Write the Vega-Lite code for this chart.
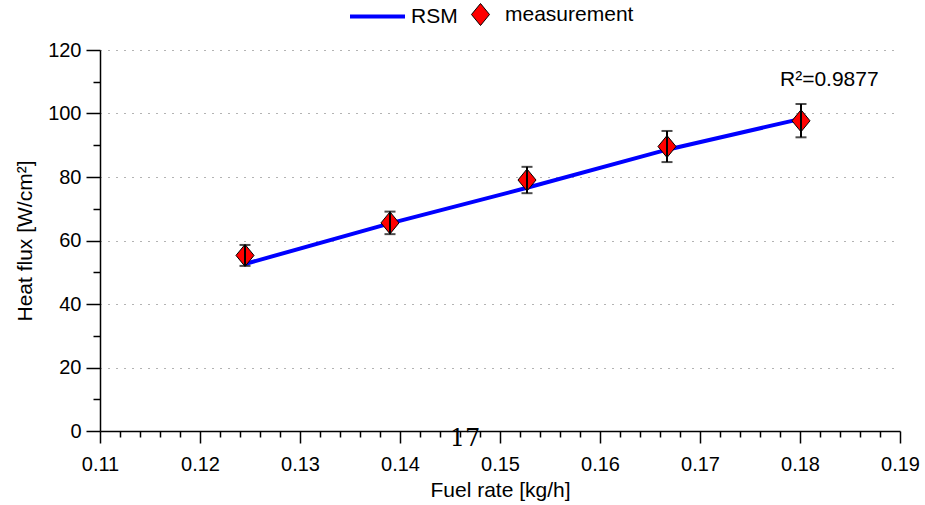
{
  "$schema": "https://vega.github.io/schema/vega-lite/v6.json",
  "width": 800,
  "height": 381,
  "autosize": "none",
  "padding": {"left": 100, "top": 50, "right": 25, "bottom": 74},
  "background": "white",
  "datasets": {
    "rsm": [
      {"x": 0.1245, "y": 52.6, "s": "RSM"},
      {"x": 0.139, "y": 65.4, "s": "RSM"},
      {"x": 0.1527, "y": 76.6, "s": "RSM"},
      {"x": 0.1667, "y": 88.6, "s": "RSM"},
      {"x": 0.1802, "y": 98.4, "s": "RSM"}
    ],
    "meas": [
      {"x": 0.1245, "y": 55.3, "lo": 52.0, "hi": 58.6, "s": "measurement"},
      {"x": 0.139, "y": 65.55, "lo": 62.0, "hi": 69.1, "s": "measurement"},
      {"x": 0.1527, "y": 79.05, "lo": 74.9, "hi": 83.2, "s": "measurement"},
      {"x": 0.1667, "y": 89.6, "lo": 84.7, "hi": 94.5, "s": "measurement"},
      {"x": 0.1801, "y": 97.7, "lo": 92.5, "hi": 103.0, "s": "measurement"}
    ],
    "r2": [{"x": 0.178, "y": 110.5, "t": "R²=0.9877"}],
    "page": [{"x": 0.1465, "y": -2.6, "t": "17"}]
  },
  "encoding": {
    "x": {
      "field": "x", "type": "quantitative", "title": "Fuel rate [kg/h]",
      "scale": {"domain": [0.11, 0.19], "nice": false, "zero": false},
      "axis": {
        "values": [0.11,0.112,0.114,0.116,0.118,0.12,0.122,0.124,0.126,0.128,0.13,0.132,0.134,0.136,0.138,0.14,0.142,0.144,0.146,0.148,0.15,0.152,0.154,0.156,0.158,0.16,0.162,0.164,0.166,0.168,0.17,0.172,0.174,0.176,0.178,0.18,0.182,0.184,0.186,0.188,0.19],
        "format": ".2f",
        "labelExpr": "abs(datum.value*100 - round(datum.value*100)) < 0.01 ? datum.label : ''",
        "tickSize": {"condition": {"test": "abs(datum.value*100 - round(datum.value*100)) < 0.01", "value": 12}, "value": 6},
        "grid": false,
        "labelFlush": false,
        "labelOverlap": false,
        "labelPadding": 11,
        "titlePadding": 5
      }
    },
    "y": {
      "field": "y", "type": "quantitative", "title": "Heat flux [W/cm²]",
      "scale": {"domain": [0, 120], "nice": false, "zero": true},
      "axis": {
        "values": [0,10,20,30,40,50,60,70,80,90,100,110,120],
        "labelExpr": "datum.value % 20 === 0 ? datum.label : ''",
        "tickSize": {"condition": {"test": "datum.value % 20 === 0", "value": 14}, "value": 7},
        "grid": true,
        "gridOpacity": {"condition": {"test": "datum.value % 20 === 0 && datum.value > 0", "value": 1}, "value": 0},
        "gridDash": [1, 7],
        "gridColor": "#666666",
        "gridWidth": 1,
        "labelFlush": false,
        "labelOverlap": false,
        "labelPadding": 5,
        "titlePadding": 12
      }
    }
  },
  "layer": [
    {
      "data": {"name": "rsm"},
      "mark": {"type": "line", "strokeWidth": 4},
      "encoding": {
        "stroke": {
          "field": "s", "type": "nominal",
          "scale": {"domain": ["RSM"], "range": ["#0000ff"]},
          "legend": {
            "orient": "none", "legendX": 248, "legendY": -63,
            "title": null, "symbolType": "stroke", "symbolSize": 3025,
            "symbolStrokeWidth": 4, "labelFontSize": 21, "labelOffset": 4,
            "labelColor": "black", "padding": 0
          }
        }
      }
    },
    {
      "data": {"name": "meas"},
      "mark": {"type": "point", "filled": true, "shape": "M0,-1L0.82,0L0,1L-0.82,0Z", "size": 484, "stroke": "black", "strokeWidth": 1, "opacity": 1},
      "encoding": {
        "fill": {
          "field": "s", "type": "nominal",
          "scale": {"domain": ["measurement"], "range": ["#ff0000"]},
          "legend": {
            "orient": "none", "legendX": 369, "legendY": -47,
            "title": null, "symbolType": "M0,-1L0.82,0L0,1L-0.82,0Z", "symbolSize": 484,
            "symbolStrokeColor": "black", "symbolStrokeWidth": 1, "symbolFillColor": "#ff0000",
            "labelFontSize": 21, "labelOffset": 13, "labelColor": "black", "padding": 0
          }
        }
      }
    },
    {
      "data": {"name": "meas"},
      "mark": {"type": "rule", "color": "black", "strokeWidth": 2},
      "encoding": {
        "y": {"field": "lo", "type": "quantitative", "title": "Heat flux [W/cm²]"},
        "y2": {"field": "hi"}
      }
    },
    {
      "data": {"name": "meas"},
      "mark": {"type": "tick", "orient": "horizontal", "color": "black", "size": 11, "thickness": 2},
      "encoding": {
        "y": {"field": "lo", "type": "quantitative", "title": "Heat flux [W/cm²]"}
      }
    },
    {
      "data": {"name": "meas"},
      "mark": {"type": "tick", "orient": "horizontal", "color": "black", "size": 11, "thickness": 2},
      "encoding": {
        "y": {"field": "hi", "type": "quantitative", "title": "Heat flux [W/cm²]"}
      }
    },
    {
      "data": {"name": "r2"},
      "mark": {"type": "text", "align": "left", "baseline": "middle", "fontSize": 21, "color": "black", "font": "Liberation Sans"},
      "encoding": {"text": {"field": "t"}}
    },
    {
      "data": {"name": "page"},
      "mark": {"type": "text", "align": "center", "baseline": "middle", "fontSize": 24, "color": "black", "font": "DejaVu Serif, Liberation Serif, serif"},
      "encoding": {"text": {"field": "t"}}
    }
  ],
  "config": {
    "font": "Liberation Sans",
    "view": {"stroke": null},
    "axis": {
      "domainColor": "black",
      "domainWidth": 1.5,
      "tickColor": "black",
      "tickWidth": 1.5,
      "labelColor": "black",
      "labelFontSize": 20,
      "labelFont": "Liberation Sans",
      "titleColor": "black",
      "titleFontSize": 21,
      "titleFontWeight": "normal",
      "titleFont": "Liberation Sans"
    }
  }
}
